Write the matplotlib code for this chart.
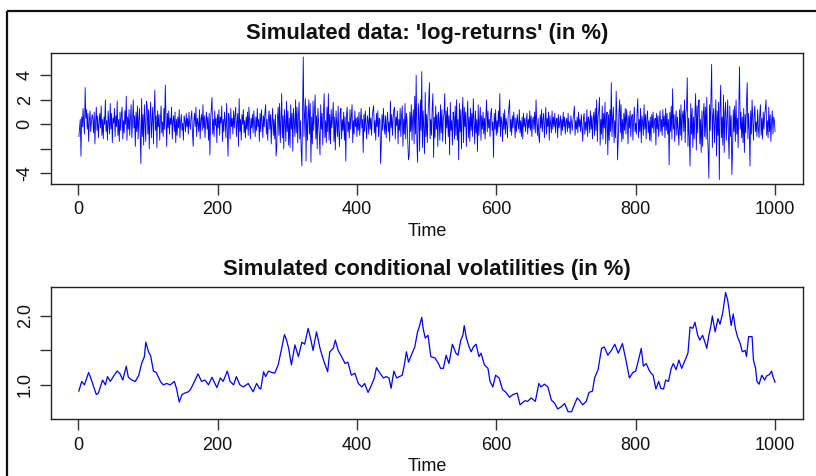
import numpy as np
import matplotlib
matplotlib.use('Agg')
import matplotlib.pyplot as plt
from matplotlib.lines import Line2D

plt.rcParams['font.family'] = ['Liberation Sans', 'DejaVu Sans']
plt.rcParams['axes.unicode_minus'] = False

# simulated log-returns (in %), t = 1..1000
returns = [
    -1.0, -0.3, 0.4, -2.6, 0.6, -0.2, 1.3, 0.1, -0.8, 3.0, 0.5, 1.2, -0.4, 0.9, -1.4, 0.3, 1.1, -0.6, 0.2, 0.8,
    0.5, -0.7, 1.0, -1.6, 0.2, 1.4, -0.5, 0.7, -1.1, 0.1, 0.9, -0.3, 1.5, -0.9, 0.4, -1.2, 0.6, 0.0, 2.0, -0.6,
    0.3, -1.3, 1.1, 0.2, -0.8, 1.7, -0.4, 0.9, -1.5, 0.5, 0.1, 1.3, -1.0, 0.7, -0.2, 1.9, -0.9, 0.4, -1.4, 1.0,
    -0.5, 0.8, 1.4, -1.2, 0.3, -0.7, 1.1, 0.0, 2.3, -1.3, 0.6, -0.4, 1.2, -0.9, 0.5, 1.6, -1.1, 0.2, 2.0, -0.3,
    0.7, -1.8, 1.0, -0.6, 1.5, -1.2, 0.4, 1.3, -0.9, -3.2, 2.1, -1.0, 0.8, -1.7, 1.6, 0.2, -1.4, 1.9, 1.5, -0.8,
    1.2, -2.0, 0.6, 1.8, -1.1, 0.3, 1.4, -1.6, 0.9, 2.8, -0.5, 0.7, -1.9, 1.1, -0.2, 0.8, -1.3, 0.4, 1.5, -0.7,
    0.2, -1.0, 1.3, -0.4, 3.2, 0.6, -1.8, 0.9, -0.3, 1.1, -0.8, 0.5, 0.0, 1.4, -1.2, 0.3, 0.7, -0.6, 1.0, -1.5,
    0.4, -0.9, 0.6, -0.3, 1.2, -1.1, 0.2, 0.8, -0.5, 0.1, -1.3, 0.7, 0.3, -0.6, 0.9, -0.2, 0.5, -0.8, 1.0, 0.0,
    -0.4, 0.6, 1.1, -0.7, -1.8, 0.3, 0.9, -0.2, 1.4, -1.0, 0.5, 0.1, -0.6, 1.2, -1.2, 0.4, 0.8, -0.5, 1.6, -0.3,
    0.7, -1.1, 0.2, 1.0, -0.4, 0.6, -1.3, 0.9, -2.5, 0.3, 1.3, 2.2, -0.8, 0.4, -1.0, 1.1, -0.1, 0.5, -1.5, 0.8,
    -0.3, 1.2, -0.9, 0.6, 0.1, 1.5, -1.4, 0.4, -0.6, 1.0, 0.2, -1.1, 1.7, -0.5, -2.6, 0.9, 0.3, -1.2, 1.3, -0.2,
    0.5, -0.8, 1.1, -0.3, 0.7, 1.4, -1.0, 0.2, 0.9, -1.8, 2.1, -0.6, 0.4, -1.3, 0.8, 0.0, 1.2, -0.7, 0.3, -1.1,
    0.6, -0.4, 1.0, -0.9, 1.4, 0.2, -1.2, 0.5, -0.3, 0.8, -0.7, 1.1, 0.1, -1.0, 0.6, -0.5, 1.3, -0.2, 0.4, -1.4,
    0.9, -0.6, 1.2, 0.3, -1.1, 0.7, -0.2, 1.0, 1.6, -0.8, 0.4, -1.3, 0.5, 1.1, -0.4, 0.8, -1.6, 0.2, 1.3, -0.9,
    0.4, -1.2, 0.8, -2.6, -1.8, 0.6, 1.4, -0.9, 1.7, -1.5, 0.3, 2.5, -1.1, 0.7, -2.0, 1.2, 0.1, -1.4, 1.9, -0.6,
    1.1, -1.7, 0.5, -1.9, 1.6, -0.4, 0.9, -2.2, 1.3, 0.2, -1.0, 2.0, -0.7, 1.4, -1.5, 0.6, 1.8, -1.2, 0.3, -2.1,
    -3.4, 1.2, 5.5, -1.0, 0.8, 2.1, -3.0, 1.5, -1.3, 0.4, 2.0, -0.8, 1.7, -3.1, 0.6, -1.6, 1.9, -0.5, 1.1, 2.4,
    -1.2, 0.7, -2.0, 1.3, 0.2, -0.9, -2.5, 1.6, -0.4, 0.9, -1.7, 1.0, 2.5, -1.1, 0.3, -1.5, 1.4, -0.6, 2.5, -1.3,
    0.8, -1.6, 1.2, -0.3, 0.5, 1.8, -1.4, 0.6, -2.1, 1.1, 0.0, -1.0, 1.5, -0.7, -1.8, 0.9, 1.3, -1.2, 0.4, -0.5,
    1.0, -1.3, 0.6, -3.0, 0.8, 1.4, -0.6, 0.2, -1.1, 1.2, -0.4, 0.7, 1.6, -1.5, 0.3, -0.8, 1.1, -0.2, 0.5, -1.0,
    0.6, -0.5, 1.0, -0.9, 0.2, 1.3, -0.3, 0.4, -2.3, 0.8, -0.6, 1.1, 0.0, -1.2, 0.7, 0.3, -0.8, 1.4, -0.4, 0.5,
    -0.9, 0.6, 1.2, 1.5, -0.7, 0.3, -1.3, 0.9, -0.2, 1.1, -1.0, 0.5, 0.4, -3.2, -1.4, 0.8, -0.5, 1.3, 0.1, -0.8,
    0.7, -1.1, 0.3, 1.0, -0.6, 0.2, -1.4, 1.9, -0.3, 0.8, -0.9, 0.5, 1.2, 1.4, -1.2, 0.6, -0.1, 1.1, -1.6, 0.4,
    -0.5, 1.3, -1.0, 0.7, 1.5, -1.8, 0.4, -0.8, 1.7, -1.2, 0.9, 0.2, -1.5, -2.9, -2.5, 1.0, -0.6, 1.6, -1.3, 0.5,
    1.2, -1.6, 2.3, -0.8, 4.0, -1.4, -3.1, 1.7, 0.6, -2.2, 2.0, -0.5, 4.3, -1.9, 1.1, -0.3, -2.4, 2.6, -1.0, 0.8,
    -1.5, 0.9, 1.8, 3.4, -1.2, 0.4, -0.9, 1.3, 2.5, -2.7, 0.6, -1.1, 1.5, -0.4, 0.8, -1.8, 1.0, 0.2, -1.3, 1.6,
    -0.7, 1.2, -1.4, 0.5, 0.9, 2.5, -1.6, 1.1, -0.3, 1.4, -1.0, 0.7, -2.5, 1.8, -0.5, 0.3, -1.7, 1.0, 0.6, -1.2,
    1.5, -0.9, 2.0, -1.3, 0.4, -2.9, 1.7, -0.6, 1.2, -2.0, 0.8, 2.2, -1.5, 1.4, -0.2, 1.0, -1.8, 0.5, 1.9, -1.1,
    0.6, -1.4, 1.3, -0.5, 0.9, -1.0, 2.1, 0.3, -1.6, 1.1, -0.7, 0.4, -2.2, 1.6, -0.9, 0.2, 1.4, -1.3, 0.7, -0.4,
    1.0, -0.8, 0.5, -1.2, 0.7, 2.0, -0.6, 1.1, -0.3, 0.4, -1.0, 0.8, 1.3, -0.5, 0.2, -2.7, 0.9, -0.4, 1.2, -0.9,
    0.3, -0.7, 1.1, -0.2, 2.5, -1.0, 0.6, 0.1, -1.4, 0.9, -0.4, 1.2, -0.8, 0.5, 0.0, -1.1, 0.7, 1.3, 2.0, -0.6,
    0.4, -0.9, 0.7, -0.3, 1.0, 0.2, -1.1, 0.5, -0.6, 0.8, 0.1, -0.4, 1.2, -0.7, 0.3, -1.0, 0.6, -1.2, 0.9, -0.2,
    0.5, -0.6, 0.2, 0.9, -0.8, 0.4, -0.3, 1.1, -0.5, 0.7, -1.0, 0.3, 0.6, -0.4, 1.0, -0.7, 2.0, 0.1, -0.9, 0.5,
    -1.0, -1.5, 0.8, -0.3, 1.2, -0.6, 0.4, 0.9, -1.1, 0.2, 1.4, -0.8, 0.5, -0.2, 1.0, -1.3, 0.7, 0.0, -0.7, 1.1,
    -0.4, 0.6, -0.2, 0.9, -0.7, 0.3, 0.5, -1.1, 0.8, -0.3, 0.1, 0.7, -0.9, 0.4, -0.5, 1.0, -0.2, 0.6, -0.8, 0.2,
    0.5, -0.6, 0.9, -0.3, 0.2, -0.8, 0.7, 0.1, -0.5, 0.4, 0.8, 1.5, -0.9, 0.3, -0.4, 0.6, -0.7, 1.0, -0.2, 0.4,
    -0.6, 0.8, -0.3, -1.4, 0.5, 0.9, -0.8, 0.2, -0.5, 1.2, -1.0, 0.6, 0.3, -0.7, 1.1, -0.4, 0.7, -1.2, 0.4, 1.0,
    -0.9, 1.3, -0.5, 2.0, -1.4, 0.6, 1.1, 2.2, -1.7, 0.4, -0.8, 1.5, -1.2, 0.9, -0.3, 1.8, -1.6, 0.7, 1.0, -2.5,
    0.8, -1.3, 1.2, -0.6, 3.4, -1.0, 0.5, 1.4, -1.5, 0.3, -1.1, 2.7, 0.6, -2.9, -1.2, 1.0, 2.0, -0.7, 1.6, -1.4,
    0.4, -1.2, 0.9, -0.5, 1.3, -0.8, 1.2, 0.2, -1.6, 0.7, -0.3, 1.1, -1.0, 0.5, 0.8, -1.3, 0.3, 1.4, -0.6, 0.1,
    -0.8, 1.0, 2.1, -1.1, 0.4, -0.6, 1.3, -1.5, 0.7, 0.2, -0.9, 1.6, -0.4, 0.8, -1.2, 0.5, 1.1, -0.7, 0.3, -1.3,
    0.6, -1.4, 0.8, -0.3, 1.0, -0.7, 0.2, 0.5, -1.7, 0.9, -0.4, 0.7, -1.0, 0.3, 1.1, -0.6, 0.4, -0.9, 1.2, -0.2,
    0.7, -1.1, 1.3, -0.5, 0.9, -0.8, 0.4, -3.3, 1.0, -0.6, 1.5, -1.2, 2.9, -0.4, 0.8, -1.4, 0.3, 1.1, -0.9, 0.6,
    -0.5, -1.7, 1.2, -0.9, 1.6, -1.3, 0.7, 1.1, -0.6, 2.0, -1.5, 0.9, 1.4, 3.8, -1.8, 0.5, -1.1, -3.4, 1.7, -0.8,
    1.3, -1.9, 0.6, -1.2, 0.9, 2.5, -2.1, 1.5, -0.7, 1.8, 2.0, -1.6, 0.4, -2.3, 1.1, -1.8, 0.8, 1.7, -1.0, 1.4,
    -1.2, 2.2, -0.8, -2.1, -4.4, 1.6, -0.5, 2.4, 4.9, -1.9, 0.7, 1.3, -1.5, 0.4, 2.0, -2.6, 1.1, -0.9, 1.8, -4.5,
    1.4, 3.2, -1.1, 0.6, -1.7, 2.4, -2.3, 0.9, 1.8, -1.3, 0.3, 2.0, -0.9, -2.8, 1.5, -1.0, 0.7, -4.1, -2.2, 1.2,
    -0.6, 1.5, -1.4, 2.0, -0.8, 0.5, -1.9, 1.2, 4.7, -0.4, 1.0, -1.1, 0.6, -1.5, 1.3, -2.3, 0.8, -0.7, 1.9, 3.4,
    -1.2, 0.9, -0.5, -3.4, 1.1, -0.8, 2.0, 0.4, -1.3, 0.7, 1.5, -0.6, 0.2, -1.0, 1.2, -0.3, -1.1, 0.8, 1.6, -0.9,
    0.5, -1.2, 1.0, -0.4, 0.7, 1.3, 2.0, -0.9, 0.3, -1.1, 1.4, -0.6, 0.8, -1.4, 0.2, 1.1, -0.8, 0.6, 0.3, -0.6,
]
ret_time = np.arange(1, len(returns) + 1)

# conditional volatility (in %)
vol_time = [
    1, 5, 9, 15, 18, 26, 29, 35, 39, 42, 46, 53, 56, 60, 64, 69, 72, 77, 82, 87,
    91, 95, 97, 101, 104, 108, 112, 118, 122, 127, 132, 138, 141, 145, 149, 153, 158, 161, 165, 172,
    177, 182, 187, 192, 199, 204, 208, 214, 218, 223, 227, 232, 237, 244, 251, 256, 260, 262, 266, 269,
    273, 278, 282, 287, 292, 296, 299, 302, 306, 311, 316, 321, 325, 330, 334, 337, 342, 347, 352, 358,
    361, 366, 369, 373, 378, 383, 387, 392, 397, 402, 407, 411, 416, 421, 425, 428, 433, 438, 442, 446,
    449, 453, 457, 461, 465, 468, 471, 474, 478, 483, 487, 490, 493, 495, 498, 502, 506, 512, 517, 520,
    524, 528, 532, 537, 542, 545, 549, 552, 554, 557, 561, 564, 567, 571, 575, 578, 583, 588, 591, 595,
    599, 604, 609, 613, 619, 624, 630, 634, 641, 645, 650, 656, 661, 664, 669, 674, 679, 684, 688, 693,
    698, 703, 708, 712, 716, 719, 724, 729, 733, 738, 741, 746, 751, 755, 760, 765, 770, 775, 781, 786,
    791, 796, 800, 804, 808, 811, 815, 819, 822, 825, 829, 833, 836, 840, 843, 847, 851, 854, 858, 862,
    866, 871, 875, 878, 882, 885, 889, 892, 896, 900, 902, 905, 908, 910, 914, 918, 921, 925, 927, 929,
    932, 934, 937, 940, 943, 946, 950, 953, 957, 959, 962, 967, 969, 972, 974, 977, 981, 985, 988, 992,
    995, 997, 1000,
]
vol = [
    0.91, 1.05, 1.00, 1.18, 1.10, 0.86, 0.88, 1.07, 1.00, 1.12, 1.05, 1.16, 1.20, 1.16, 1.07, 1.27, 1.11, 1.07, 1.05, 1.14,
    1.31, 1.41, 1.62, 1.48, 1.42, 1.20, 1.18, 1.05, 1.00, 1.02, 1.00, 1.05, 0.95, 0.75, 0.86, 0.88, 0.90, 0.93, 1.01, 1.16,
    1.05, 1.07, 1.00, 1.11, 0.96, 1.10, 1.05, 1.20, 1.05, 1.00, 1.12, 1.00, 0.97, 1.02, 0.90, 1.02, 0.95, 0.94, 1.19, 1.12,
    1.20, 1.18, 1.17, 1.29, 1.53, 1.73, 1.65, 1.53, 1.29, 1.58, 1.41, 1.62, 1.59, 1.82, 1.65, 1.50, 1.77, 1.53, 1.36, 1.19,
    1.48, 1.53, 1.65, 1.50, 1.41, 1.31, 1.33, 1.14, 1.17, 1.02, 0.97, 1.02, 0.89, 1.00, 1.10, 1.25, 1.17, 1.10, 1.12, 1.10,
    0.95, 1.20, 1.10, 1.12, 1.14, 1.29, 1.48, 1.33, 1.43, 1.55, 1.77, 1.86, 1.98, 1.82, 1.68, 1.72, 1.41, 1.39, 1.31, 1.24,
    1.24, 1.43, 1.31, 1.59, 1.46, 1.43, 1.65, 1.72, 1.86, 1.68, 1.55, 1.48, 1.55, 1.59, 1.41, 1.46, 1.29, 1.24, 1.05, 0.97,
    1.14, 1.10, 0.93, 0.90, 0.82, 0.86, 0.88, 0.71, 0.77, 0.76, 0.81, 0.76, 1.02, 0.97, 1.01, 0.97, 0.78, 0.73, 0.65, 0.68,
    0.73, 0.61, 0.61, 0.71, 0.81, 0.78, 0.71, 0.76, 0.89, 0.91, 1.10, 1.22, 1.53, 1.55, 1.43, 1.50, 1.59, 1.46, 1.60, 1.36,
    1.10, 1.18, 1.20, 1.36, 1.53, 1.27, 1.31, 1.22, 1.17, 1.14, 0.94, 1.05, 0.95, 0.94, 1.07, 1.05, 1.24, 1.31, 1.22, 1.36,
    1.24, 1.36, 1.46, 1.84, 1.82, 1.91, 1.72, 1.65, 1.72, 1.60, 1.53, 1.72, 1.86, 2.00, 1.77, 1.96, 1.88, 2.05, 2.19, 2.34,
    2.23, 2.09, 1.86, 2.03, 1.82, 1.70, 1.60, 1.48, 1.50, 1.41, 1.70, 1.70, 1.36, 1.24, 1.05, 1.01, 1.14, 1.07, 1.13, 1.15,
    1.20, 1.12, 1.04,
]

x_ticks = [0, 200, 400, 600, 800, 1000]
ret_ticks = [-4, -2, 0, 2, 4]
ret_tick_labels = ['-4', '', '0', '2', '4']
vol_ticks = [1.0, 1.5, 2.0]
vol_tick_labels = ['1.0', '', '2.0']

fig = plt.figure(figsize=(8.16, 4.76), dpi=100)
fig.patch.set_facecolor('white')

ax1 = fig.add_axes([0.0625, 0.6134, 0.9215, 0.2753])
ax2 = fig.add_axes([0.0625, 0.1191, 0.9215, 0.2786])


def r_style(ax, yticks, ylabels):
    # оси в стиле base R: рамка, внешние засечки, подписи по оси y повернуты
    for s in ax.spines.values():
        s.set_color('#222222')
        s.set_linewidth(1.0)
    ax.set_xticks(x_ticks)
    ax.set_yticks(yticks)
    ax.set_yticklabels(ylabels)
    ax.tick_params(direction='out', length=8, width=1.0, color='#333333',
                   labelsize=13, pad=4.5, labelcolor='#111111')
    for lab in ax.get_yticklabels():
        lab.set_rotation(90)
        lab.set_va('center')
    ax.set_xlim(-39, 1040)


ax1.plot(ret_time, returns, color='#0000ff', lw=0.6)
r_style(ax1, ret_ticks, ret_tick_labels)
ax1.set_ylim(-4.87, 5.82)

ax2.plot(vol_time, vol, color='#0000ff', lw=0.9)
r_style(ax2, vol_ticks, vol_tick_labels)
ax2.set_ylim(0.50, 2.425)

fig.text(0.5233, 0.930, "Simulated data: 'log-returns' (in %)", ha='center', va='center',
         fontsize=15.8, fontweight='bold', color='#111111')
fig.text(0.5233, 0.434, "Simulated conditional volatilities (in %)", ha='center', va='center',
         fontsize=15.8, fontweight='bold', color='#111111')
fig.text(0.5233, 0.513, 'Time', ha='center', va='center', fontsize=13, color='#111111')
fig.text(0.5233, 0.019, 'Time', ha='center', va='center', fontsize=13, color='#111111')

# рамка окна (видна только слева и сверху)
fig.add_artist(Line2D([0.0086, 0.0086], [0.0, 0.977], color='#111111', lw=1.6,
                      solid_capstyle='butt'))
fig.add_artist(Line2D([0.0086, 1.0], [0.977, 0.977], color='#111111', lw=1.6,
                      solid_capstyle='butt'))

fig.savefig('out.png', dpi=100)
